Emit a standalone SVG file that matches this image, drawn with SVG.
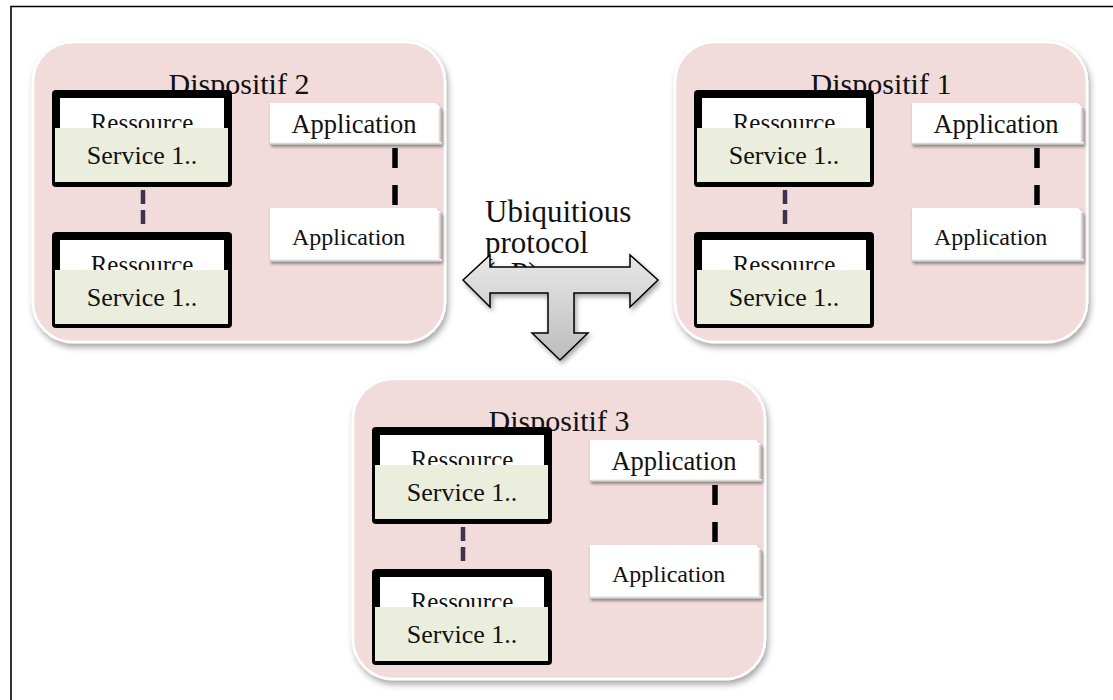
<svg xmlns="http://www.w3.org/2000/svg" width="1113" height="700" viewBox="0 0 1113 700">
<style>
  .dev{fill:#f2dcdb;stroke:#ffffff;stroke-width:2.5;filter:url(#sh)}
  .title{font-family:"Liberation Serif","Times New Roman",serif;font-size:30px;fill:#111;text-anchor:middle}
  .rb{fill:#000}
  .rw{fill:#ffffff}
  .sv{fill:#ebeedd}
  .t{font-family:"Liberation Serif","Times New Roman",serif;fill:#111}
  .rt{font-size:25px;text-anchor:middle}
  .st{font-size:26px;text-anchor:middle}
  .app{fill:#ffffff;filter:url(#sh2)}
  .bev{fill:url(#bevR)}
  .pd{stroke:#3f3151;stroke-width:4.5;stroke-dasharray:14 6;fill:none}
  .bd{stroke:#000;stroke-width:5.5;stroke-dasharray:20 17;fill:none}
  .lbl{font-family:"Liberation Serif","Times New Roman",serif;font-size:31px;fill:#111}
</style>
<defs>
  <filter id="sh" x="-10%" y="-10%" width="125%" height="125%">
    <feDropShadow dx="2" dy="4" stdDeviation="3" flood-color="#000" flood-opacity="0.35"/>
  </filter>
  <filter id="sh2" x="-10%" y="-20%" width="125%" height="150%">
    <feDropShadow dx="1" dy="2" stdDeviation="1.5" flood-color="#000" flood-opacity="0.4"/>
  </filter>
  <filter id="sh3" x="-10%" y="-10%" width="125%" height="125%">
    <feDropShadow dx="2" dy="3" stdDeviation="2.5" flood-color="#000" flood-opacity="0.35"/>
  </filter>
  <linearGradient id="bevR" x1="0" y1="0" x2="1" y2="0">
    <stop offset="0" stop-color="#ffffff"/>
    <stop offset="1" stop-color="#a6a6a6"/>
  </linearGradient>
  <linearGradient id="bevB" x1="0" y1="0" x2="0" y2="1">
    <stop offset="0" stop-color="#ffffff"/>
    <stop offset="1" stop-color="#b0b0b0"/>
  </linearGradient>
  <linearGradient id="arr" x1="0" y1="0" x2="0" y2="1">
    <stop offset="0" stop-color="#e8e8e8"/>
    <stop offset="1" stop-color="#bcbcbc"/>
  </linearGradient>
  <clipPath id="titleClip" clipPathUnits="userSpaceOnUse">
    <rect x="33" y="40" width="412" height="54.5"/>
  </clipPath>
</defs>

<rect x="0" y="0" width="1113" height="700" fill="#ffffff"/>
<path d="M11,700 V6.5 H1113" fill="none" stroke="#000" stroke-width="1.6"/>

<!-- Device 2 -->
<g id="dispositif2">
  <rect class="dev" x="33" y="42" width="412" height="300" rx="40"/>
  <text class="title" x="239" y="94" clip-path="url(#titleClip)">Dispositif 2</text>
  <g id="d2-res1">
    <rect class="rb" x="52" y="90" width="180" height="97" rx="4"/>
    <rect class="rw" x="60" y="98" width="164" height="40"/>
    <text class="t rt" x="142" y="131">Ressource</text>
    <rect class="sv" x="55" y="128" width="173" height="54"/>
    <text class="t st" x="142" y="164">Service 1..</text>
  </g>
  <g id="d2-res2">
    <rect class="rb" x="52" y="232" width="180" height="96" rx="4"/>
    <rect class="rw" x="60" y="240" width="164" height="40"/>
    <text class="t rt" x="142" y="273">Ressource</text>
    <rect class="sv" x="55" y="270" width="173" height="54"/>
    <text class="t st" x="142" y="306">Service 1..</text>
  </g>
  <g id="d2-app1">
    <path class="app" d="M270,103 H436 L442,109 V145 H270 Z"/>
    <rect class="bev" x="438" y="108" width="4" height="37"/>
    <rect x="270" y="142" width="172" height="3" fill="url(#bevB)"/>
    <text class="t" x="354" y="133" font-size="26.5" text-anchor="middle">Application</text>
  </g>
  <g id="d2-app2">
    <path class="app" d="M270,208 H436 L442,214 V262 H270 Z"/>
    <rect class="bev" x="438" y="213" width="4" height="49"/>
    <rect x="270" y="259" width="172" height="3" fill="url(#bevB)"/>
    <text class="t" x="292" y="245" font-size="24">Application</text>
  </g>
</g>

<!-- Device 1 -->
<g id="dispositif1" transform="translate(642,0)">
  <rect class="dev" x="33" y="42" width="412" height="300" rx="40"/>
  <text class="title" x="239" y="94" clip-path="url(#titleClip)">Dispositif 1</text>
  <g id="d1-res1">
    <rect class="rb" x="52" y="90" width="180" height="97" rx="4"/>
    <rect class="rw" x="60" y="98" width="164" height="40"/>
    <text class="t rt" x="142" y="131">Ressource</text>
    <rect class="sv" x="55" y="128" width="173" height="54"/>
    <text class="t st" x="142" y="164">Service 1..</text>
  </g>
  <g id="d1-res2">
    <rect class="rb" x="52" y="232" width="180" height="96" rx="4"/>
    <rect class="rw" x="60" y="240" width="164" height="40"/>
    <text class="t rt" x="142" y="273">Ressource</text>
    <rect class="sv" x="55" y="270" width="173" height="54"/>
    <text class="t st" x="142" y="306">Service 1..</text>
  </g>
  <g id="d1-app1">
    <path class="app" d="M270,103 H436 L442,109 V145 H270 Z"/>
    <rect class="bev" x="438" y="108" width="4" height="37"/>
    <rect x="270" y="142" width="172" height="3" fill="url(#bevB)"/>
    <text class="t" x="354" y="133" font-size="26.5" text-anchor="middle">Application</text>
  </g>
  <g id="d1-app2">
    <path class="app" d="M270,208 H436 L442,214 V262 H270 Z"/>
    <rect class="bev" x="438" y="213" width="4" height="49"/>
    <rect x="270" y="259" width="172" height="3" fill="url(#bevB)"/>
    <text class="t" x="292" y="245" font-size="24">Application</text>
  </g>
</g>

<!-- Device 3 -->
<g id="dispositif3" transform="translate(320,337)">
  <rect class="dev" x="33" y="42" width="412" height="300" rx="40"/>
  <text class="title" x="239" y="94" clip-path="url(#titleClip)">Dispositif 3</text>
  <g id="d3-res1">
    <rect class="rb" x="52" y="90" width="180" height="97" rx="4"/>
    <rect class="rw" x="60" y="98" width="164" height="40"/>
    <text class="t rt" x="142" y="131">Ressource</text>
    <rect class="sv" x="55" y="128" width="173" height="54"/>
    <text class="t st" x="142" y="164">Service 1..</text>
  </g>
  <g id="d3-res2">
    <rect class="rb" x="52" y="232" width="180" height="96" rx="4"/>
    <rect class="rw" x="60" y="240" width="164" height="40"/>
    <text class="t rt" x="142" y="273">Ressource</text>
    <rect class="sv" x="55" y="270" width="173" height="54"/>
    <text class="t st" x="142" y="306">Service 1..</text>
  </g>
  <g id="d3-app1">
    <path class="app" d="M270,103 H436 L442,109 V145 H270 Z"/>
    <rect class="bev" x="438" y="108" width="4" height="37"/>
    <rect x="270" y="142" width="172" height="3" fill="url(#bevB)"/>
    <text class="t" x="354" y="133" font-size="26.5" text-anchor="middle">Application</text>
  </g>
  <g id="d3-app2">
    <path class="app" d="M270,208 H436 L442,214 V262 H270 Z"/>
    <rect class="bev" x="438" y="213" width="4" height="49"/>
    <rect x="270" y="259" width="172" height="3" fill="url(#bevB)"/>
    <text class="t" x="292" y="245" font-size="24">Application</text>
  </g>
</g>

<!-- Connectors -->
<g id="connectors">
  <line class="pd" x1="143" y1="190" x2="143" y2="230"/>
  <line class="bd" x1="395" y1="148" x2="395" y2="206"/>
  <line class="pd" x1="785" y1="190" x2="785" y2="230"/>
  <line class="bd" x1="1037" y1="148" x2="1037" y2="206"/>
  <line class="pd" x1="463" y1="527" x2="463" y2="567"/>
  <line class="bd" x1="715" y1="485" x2="715" y2="543"/>
</g>

<!-- Ubiquitous protocol -->
<g id="protocol">
  <text class="lbl" x="485" y="222">Ubiquitious<tspan x="485" dy="31">protocol</tspan><tspan x="485" dy="31">(uP)</tspan></text>
  <polygon points="463,280 490,255 490,267 630,267 630,255 658,280 630,307 630,293 574,293 574,333 588,333 560,360 532,333 548,333 548,293 490,293 490,307" fill="url(#arr)" stroke="#000" stroke-width="1.5" stroke-linejoin="miter" filter="url(#sh3)"/>
</g>
</svg>
